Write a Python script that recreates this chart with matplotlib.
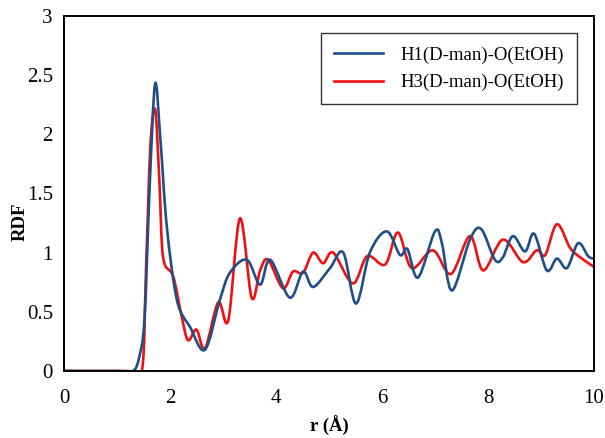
import matplotlib
matplotlib.use("Agg")
import matplotlib.pyplot as plt
import numpy as np
from matplotlib.path import Path
from matplotlib.patches import PathPatch
from matplotlib.lines import Line2D

plt.rcParams['font.family'] = ['Liberation Serif', 'DejaVu Serif']

# H1(D-man)-O(EtOH)
r_h1 = [0.0, 1.0, 1.3, 1.42, 1.52, 1.62, 1.72, 1.82, 1.94, 2.13, 2.38, 2.66,
        2.94, 3.13, 3.45, 3.70, 3.89, 4.26, 4.51, 4.70, 5.02, 5.27, 5.51,
        5.77, 6.09, 6.34, 6.48, 6.68, 7.0, 7.13, 7.32, 7.66, 7.87, 8.13,
        8.28, 8.47, 8.70, 8.87, 9.11, 9.30, 9.49, 9.70, 9.89, 10.0]
g_h1 = [0.0, 0.0, 0.0, 0.12, 0.45, 1.6, 2.43, 1.95, 1.22, 0.60, 0.37, 0.18,
        0.60, 0.83, 0.94, 0.73, 0.94, 0.62, 0.84, 0.71, 0.87, 1.0, 0.57,
        1.0, 1.18, 0.98, 1.03, 0.79, 1.18, 1.08, 0.68, 1.11, 1.2, 0.94,
        0.96, 1.14, 1.01, 1.16, 0.85, 0.95, 0.87, 1.08, 0.97, 0.95]

# H3(D-man)-O(EtOH)
r_h3 = [0.0, 1.2, 1.47, 1.55, 1.63, 1.72, 1.80, 1.87, 2.06, 2.22, 2.34, 2.5,
        2.66, 2.91, 3.10, 3.32, 3.54, 3.70, 3.85, 4.13, 4.32, 4.51, 4.70,
        4.89, 5.08, 5.45, 5.72, 6.06, 6.30, 6.56, 6.96, 7.30, 7.66, 7.91,
        8.28, 8.66, 8.92, 9.08, 9.30, 9.55, 9.74, 10.0]
g_h3 = [0.0, 0.0, 0.0, 0.9, 1.9, 2.21, 1.6, 0.96, 0.80, 0.46, 0.26, 0.35,
        0.19, 0.58, 0.43, 1.29, 0.62, 0.85, 0.94, 0.70, 0.84, 0.83, 1.0,
        0.91, 1.0, 0.74, 0.97, 0.90, 1.17, 0.87, 1.02, 0.82, 1.14, 0.85,
        1.11, 0.92, 1.02, 0.98, 1.24, 1.04, 0.96, 0.88]

labels = ['H1(D-man)-O(EtOH)', 'H3(D-man)-O(EtOH)']
colors = ['#1f4e89', '#ee1111']


def smooth_path(x, y):
    # Catmull-Rom segments written as cubic Bezier pieces
    x = np.asarray(x, float)
    y = np.asarray(y, float)
    verts = [(x[0], y[0])]
    codes = [Path.MOVETO]
    n = len(x)
    for i in range(n - 1):
        p0 = np.array([x[max(i - 1, 0)], y[max(i - 1, 0)]])
        p1 = np.array([x[i], y[i]])
        p2 = np.array([x[i + 1], y[i + 1]])
        p3 = np.array([x[min(i + 2, n - 1)], y[min(i + 2, n - 1)]])
        c1 = p1 + (p2 - p0) / 6.0
        c2 = p2 - (p3 - p1) / 6.0
        verts += [tuple(c1), tuple(c2), tuple(p2)]
        codes += [Path.CURVE4] * 3
    return Path(verts, codes)


fig = plt.figure(figsize=(6.05, 4.38), dpi=100)
ax = fig.add_axes([0.1058, 0.153, 0.876, 0.8105])

for x, y, c in [(r_h1, g_h1, colors[0]), (r_h3, g_h3, colors[1])][::-1]:
    ax.add_patch(PathPatch(smooth_path(x, y), fill=False, edgecolor=c,
                           lw=1.9, capstyle='round', joinstyle='round'))

ax.set_xlim(0, 10)
ax.set_ylim(0, 3)
ax.set_xticks([0, 2, 4, 6, 8, 10])
ax.set_yticks([0, 0.5, 1, 1.5, 2, 2.5, 3])
ax.set_yticklabels(['0', '0.5', '1', '1.5', '2', '2.5', '3'])
ax.tick_params(axis='y', length=0, labelsize=15, pad=8)
ax.tick_params(axis='x', length=0, labelsize=15, pad=13)
for s in ax.spines.values():
    s.set_linewidth(1.4)

ax.set_xlabel('r (Å)', fontsize=13.5, fontweight='bold', labelpad=6)
ax.set_ylabel('RDF', fontsize=13.5, fontweight='bold', labelpad=2)
ax.yaxis.set_label_coords(-0.066, 0.42)

handles = [Line2D([], [], color=c, lw=1.9) for c in colors]
leg = ax.legend(handles, labels, loc='upper right',
                bbox_to_anchor=(0.985, 0.978), fontsize=13.5, frameon=True,
                fancybox=False, edgecolor='black', handlelength=2.6,
                handletextpad=0.9, borderpad=0.7, labelspacing=0.55)
leg.get_frame().set_linewidth(1.0)

plt.savefig('out.png', dpi=100)
